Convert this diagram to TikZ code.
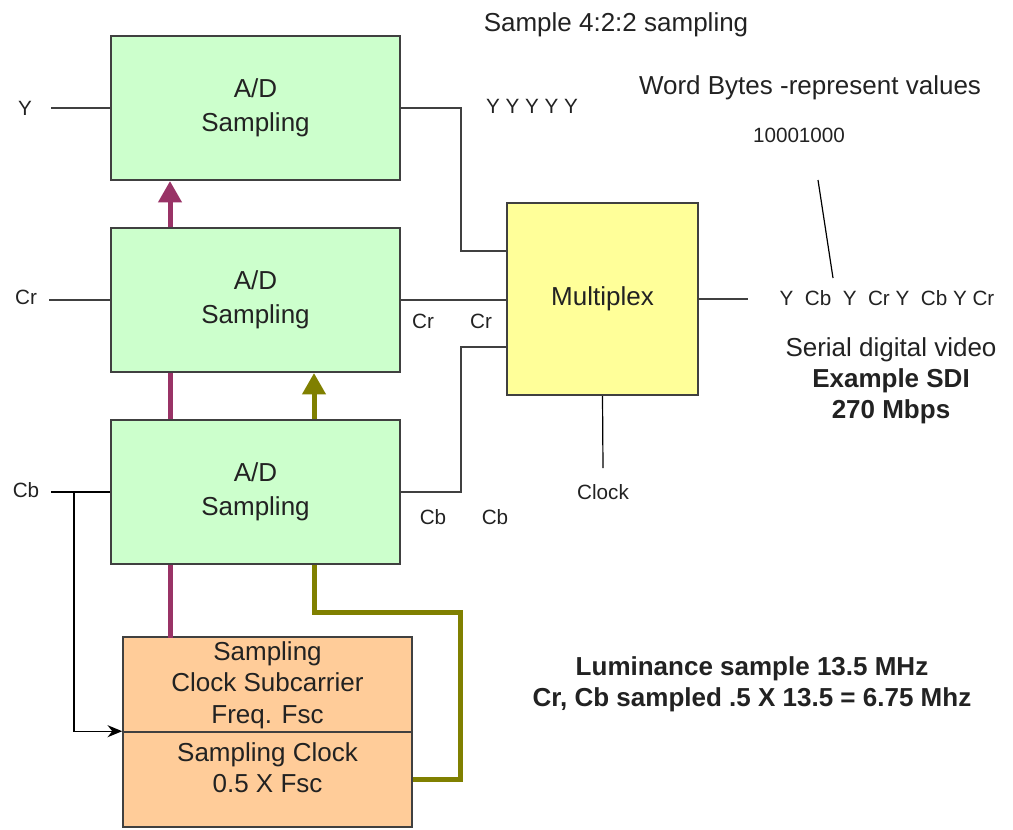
\documentclass[tikz,border=0pt]{standalone}
\usepackage{fontspec}
\setmainfont{Liberation Sans}
\usetikzlibrary{arrows.meta}
\definecolor{adgreen}{HTML}{CCFFCC}
\definecolor{clkorange}{HTML}{FFCC99}
\definecolor{muxyellow}{HTML}{FFFF99}
\definecolor{clkpurple}{HTML}{993366}
\definecolor{clkolive}{HTML}{808000}
\definecolor{wiregray}{HTML}{404040}
\definecolor{txtgray}{HTML}{222222}
\begin{document}
\begin{tikzpicture}[x=0.75pt,y=-0.75pt,
  adbox/.style={draw=wiregray, line width=1.5pt, fill=adgreen, minimum width=216.75pt, minimum height=108pt, inner sep=0pt, align=center, text=txtgray, font=\fontsize{19.5}{25.5}\selectfont},
  clkbox/.style={draw=wiregray, line width=1.2pt, fill=clkorange, minimum width=216.75pt, minimum height=71.25pt, inner sep=0pt, align=center, text=txtgray, font=\fontsize{19.5}{23.6}\selectfont},
  muxbox/.style={draw=wiregray, line width=1.5pt, fill=muxyellow, minimum width=143.25pt, minimum height=144pt, inner sep=0pt, text=txtgray, font=\fontsize{19.5}{23.25}\selectfont},
  biglbl/.style={inner sep=0pt, align=center, text=txtgray, font=\fontsize{19.5}{23.25}\selectfont},
  smalllbl/.style={inner sep=0pt, text=txtgray, font=\fontsize{15.5}{18}\selectfont},
  wire/.style={draw=wiregray, line width=1.5pt},
  thinwire/.style={draw=black, line width=0.9pt},
  purp/.style={draw=clkpurple, line width=3.75pt},
  oliv/.style={draw=clkolive, line width=3.75pt},
  bigtip/.style={-{Triangle[width=17pt,length=16pt]}}]
\useasboundingbox (0,0) rectangle (1013,829);
\node[adbox] (ady) at (255.5,108) {A/D\\Sampling};
\node[adbox] (adcr) at (255.5,300) {A/D\\Sampling};
\node[adbox] (adcb) at (255.5,492) {A/D\\Sampling};
\node[clkbox] (clka) at (267.5,684.5) {Sampling\\Clock Subcarrier\\Freq. Fsc\\[-20pt]\mbox{}};
\node[clkbox, minimum height=71.25pt] (clkb) at (267.5,779.5) {Sampling Clock\\0.5 X Fsc\\[-6pt]\mbox{}};
\node[muxbox] (mux) at (602.5,299) {Multiplex};
\node[smalllbl] (yin) at (25,108) {Y};
\node[smalllbl] (crin) at (26,297) {Cr};
\node[smalllbl] (cbin) at (26,490) {Cb};
\coordinate (yend) at (51,108);
\coordinate (crend) at (49,300);
\coordinate (cbend) at (51,492);
\coordinate (cbsplit) at (74,492);
\node[smalllbl] (yyy) at (532,106) {Y Y Y Y Y};
\node[smalllbl] (cra) at (423,321) {Cr};
\node[smalllbl] (crb) at (481,321) {Cr};
\node[smalllbl] (cba) at (433,517) {Cb};
\node[smalllbl] (cbb) at (495,517) {Cb};
\node[smalllbl] (clk) at (603,492) {Clock};
\coordinate (clkend) at (603,468);
\coordinate (outend) at (748,299);
\node[biglbl] (title) at (616,25) {Sample 4:2:2 sampling};
\node[biglbl] (words) at (810,88) {Word Bytes -represent values};
\node[smalllbl] (bits) at (799,135) {10001000};
\coordinate (bitstop) at (818,180);
\coordinate (bitsbot) at (833,278);
\node[smalllbl] (seq) at (887,298) {Y\ \ Cb\ \ Y\ \ Cr Y\ \ Cb Y Cr};
\node[biglbl] (sdi) at (891,381) {Serial digital video\\\textbf{Example SDI}\\\textbf{270 Mbps}};
\node[biglbl, font=\bfseries\fontsize{19.5}{23.25}\selectfont] (lum) at (752,684) {Luminance sample 13.5 MHz\\Cr, Cb sampled .5 X 13.5 = 6.75 Mhz};
\draw[wire] (yend) -- (ady.west);
\draw[wire] (crend) -- (adcr.west);
\draw[thinwire] (cbend) -- (adcb.west);
\draw[thinwire, -{Stealth[length=11pt,width=9pt]}] (cbsplit) |- (clkb.north west);
\draw[wire] (ady.east) -- ++(60,0) |- ([yshift=36pt]mux.west);
\draw[wire] (adcr.east) -- (adcr.east -| mux.west);
\draw[wire] (adcb.east) -- ++(60,0) |- ([yshift=-36pt]mux.west);
\draw[wire] (mux.east) -- (outend);
\draw[thinwire] (mux.south) -- (clkend);
\draw[thinwire] (bitstop) -- (bitsbot);
\draw[purp, bigtip] ([xshift=45pt]adcr.north west) -- ([xshift=45pt]ady.south west);
\draw[purp] ([xshift=45pt]adcb.north west) -- ([xshift=45pt]adcr.south west);
\draw[purp] ([xshift=45pt]adcb.south west) -- ++(0,73);
\draw[oliv, bigtip] ([xshift=153pt]adcb.north west) -- ([xshift=153pt]adcr.south west);
\draw[oliv] (clkb.east) -| (460,612) -| ([xshift=153pt]adcb.south west);
\end{tikzpicture}
\end{document}
